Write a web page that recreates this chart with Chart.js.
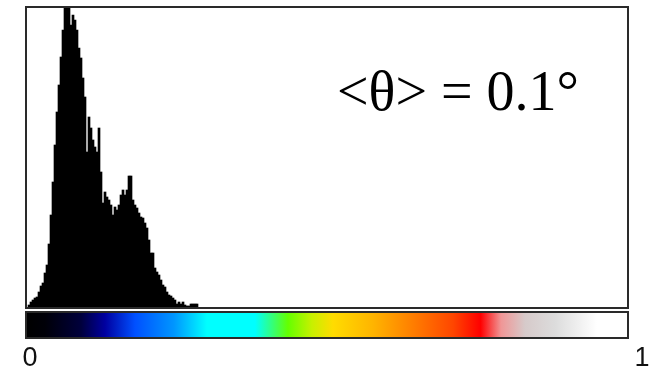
<!DOCTYPE html>
<html>
<head>
<meta charset="utf-8">
<script src="https://cdn.jsdelivr.net/npm/chart.js@4"></script>
<style>
    html, body { margin: 0; padding: 0; background: #fff; }
    canvas { display: block; }
</style>
</head>
<body>
<canvas id="hist" width="655" height="368"></canvas>
<script>
// --- Data ----------------------------------------------------------------

// Histogram counts per bin (300 bins across the 0..1 range)
const counts = [
    2, 5, 7, 9, 10, 15, 21, 24, 34, 42,
    63, 92, 125, 162, 195, 222, 250, 277, 300, 310,
    300, 282, 292, 287, 277, 259, 249, 229, 210, 155,
    190, 179, 167, 160, 155, 179, 135, 104, 115, 110,
    107, 102, 92, 100, 97, 102, 112, 117, 112, 117,
    131, 131, 107, 102, 99, 94, 90, 89, 84, 79,
    67, 54, 54, 39, 35, 32, 27, 22, 20, 15,
    12, 11, 9, 7, 3, 5, 3, 5, 2, 1,
    1, 3, 3, 3, 3,
];
const binCount = 300;
const yMax = 299;

// Colour bar stops (position 0..1, colour)
const barStops = [0, 0.03, 0.09, 0.13, 0.18, 0.245, 0.30, 0.38, 0.435, 0.475, 0.51, 0.577, 0.65, 0.71, 0.756, 0.79, 0.83, 0.88, 0.95, 1];
const barColors = [
    '#000000', '#000008', '#00003c', '#0000a0', '#0050ff', '#0096ff', '#00ffff', '#00ffff',
    '#64ff00', '#c8f000', '#ffdc00', '#ffb400', '#ff7800', '#ff4600', '#ff0000',
    '#f09696', '#d6caca', '#dcdcdc', '#ffffff', '#ffffff',
];
const barTicks = ['0', '1'];

const meanLabel = '<θ> = 0.1°';

// --- Decorations ----------------------------------------------------------

const frameAndBar = {
    id: 'frameAndBar',
    afterDraw(chart) {
        const { ctx, chartArea: a } = chart;
        ctx.save();

        // frame round the histogram
        ctx.strokeStyle = '#2a2a2a';
        ctx.lineWidth = 2;
        ctx.strokeRect(a.left - 1, a.top - 1, a.width + 2, a.height + 2);

        // colour bar
        const top = 313, bottom = 337;
        const grad = ctx.createLinearGradient(a.left, 0, a.right, 0);
        barStops.forEach((s, i) => grad.addColorStop(s, barColors[i]));
        ctx.fillStyle = grad;
        ctx.fillRect(a.left, top, a.width, bottom - top);
        ctx.strokeRect(a.left - 1, top - 1, a.width + 2, bottom - top + 2);

        // colour bar tick labels
        ctx.fillStyle = '#111';
        ctx.font = '27px "Liberation Sans", Arial, sans-serif';
        ctx.textAlign = 'center';
        ctx.textBaseline = 'alphabetic';
        ctx.fillText(barTicks[0], a.left + 3, 366);
        ctx.fillText(barTicks[1], a.right + 15, 366);

        // mean angle annotation
        ctx.fillStyle = '#000';
        ctx.font = '56px "Liberation Serif", "Times New Roman", serif';
        ctx.textAlign = 'left';
        ctx.fillText(meanLabel, 337, 110);

        ctx.restore();
    },
};

// --- Chart ----------------------------------------------------------------

new Chart(document.getElementById('hist'), {
    type: 'bar',
    data: {
        datasets: [
            {
                data: counts.map((c, i) => ({ x: i, y: c })),
                backgroundColor: '#000',
                borderWidth: 0,
                barPercentage: 1,
                categoryPercentage: 1,
            },
        ],
    },
    options: {
        responsive: false,
        animation: false,
        layout: { padding: { left: 27, right: 28, top: 8, bottom: 61 } },
        plugins: {
            legend: { display: false },
            tooltip: { enabled: false },
        },
        scales: {
            x: { type: 'linear', min: -1, max: binCount - 1, display: false, offset: false },
            y: { min: 0, max: yMax, display: false },
        },
    },
    plugins: [frameAndBar],
});
</script>
</body>
</html>
